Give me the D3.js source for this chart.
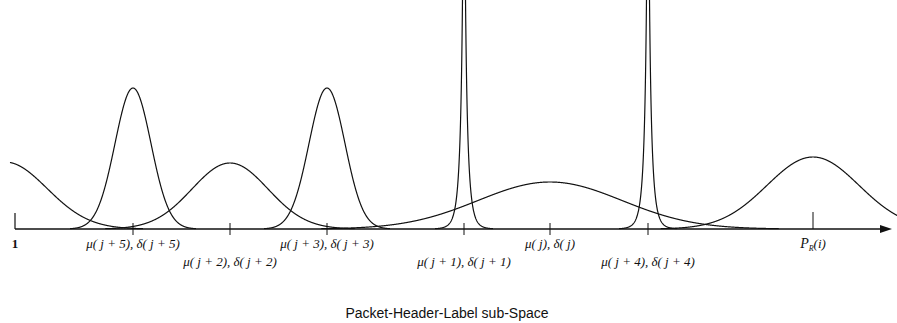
<!DOCTYPE html>
<html>
<head>
<meta charset="utf-8">
<script src="https://cdn.jsdelivr.net/npm/d3@7"></script>
<style>
  html, body { margin: 0; padding: 0; background: #fff; }
  svg { display: block; }
  .lbl { font-family: "Liberation Serif", "DejaVu Serif", serif; font-style: italic; font-size: 13px; fill: #111; }
  .title { font-family: "Liberation Sans", Arial, sans-serif; font-size: 14px; fill: #111; }
</style>
</head>
<body>
<svg id="chart" width="897" height="323"></svg>
<script>
// distributions along the sub-space axis (axis units = pixels from left edge)
const names   = ["left", "j+5", "j+2", "j+3", "j+1", "j", "j+4", "PR"];
const centers = [5, 133, 230, 327, 464, 550, 648, 813];
const spreads = [42, 18, 38, 18, 1.6, 72, 1.6, 46];
const peaks   = [67, 141, 66, 141, 600, 47, 600, 72];
const shapes  = ["gauss", "gauss", "gauss", "gauss", "spike", "gauss", "spike", "gauss"];
const curveStart = [10, 0, 0, 0, 0, 0, 0, 0];

// tick marks and their labels
const tickPos   = [133, 230, 327, 464, 550, 648];
const tickLabels = ["μ( j + 5), δ( j + 5)", "μ( j + 2), δ( j + 2)", "μ( j + 3), δ( j + 3)",
                    "μ( j + 1), δ( j + 1)", "μ( j), δ( j)", "μ( j + 4), δ( j + 4)"];
const tickRow   = [0, 1, 0, 1, 0, 1];
const prPos = 813;
const originLabel = "1";
const title = "Packet-Header-Label sub-Space";

const W = 897, H = 323;
const svg = d3.select("#chart");

const x = d3.scaleLinear().domain([0, 897]).range([0, 897]);
const y = d3.scaleLinear().domain([0, 229]).range([229, 0]);

function density(i, v) {
  const d = Math.abs(v - centers[i]);
  if (shapes[i] === "spike") return peaks[i] * Math.exp(-Math.pow(d / spreads[i], 0.7));
  return peaks[i] * Math.exp(-(d * d) / (2 * spreads[i] * spreads[i]));
}

const line = d3.line()
  .x(d => x(d[0]))
  .y(d => y(d[1]));

svg.append("clipPath").attr("id", "clip")
  .append("rect").attr("x", 0).attr("y", 0).attr("width", W).attr("height", 229.5);

const curves = svg.append("g").attr("clip-path", "url(#clip)");

names.forEach((n, i) => {
  const pts = d3.range(curveStart[i], W + 1, 0.25)
    .map(v => [v, density(i, v)])
    .filter(p => p[1] > 0.3);
  curves.append("path")
    .attr("d", line(pts))
    .attr("fill", "none")
    .attr("stroke", "#111")
    .attr("stroke-width", 1.2);
});

// axis
const axisY = y(0);
svg.append("line")
  .attr("x1", x(15)).attr("x2", x(884))
  .attr("y1", axisY).attr("y2", axisY)
  .attr("stroke", "#111").attr("stroke-width", 1.4);
svg.append("path")
  .attr("d", `M${x(892)},${axisY} L${x(880)},${axisY - 4} L${x(880)},${axisY + 4} Z`)
  .attr("fill", "#111");
svg.append("line")
  .attr("x1", x(15)).attr("x2", x(15))
  .attr("y1", axisY - 16).attr("y2", axisY)
  .attr("stroke", "#111").attr("stroke-width", 1.2);

svg.selectAll(".tick").data(tickPos).join("line")
  .attr("class", "tick")
  .attr("x1", d => x(d)).attr("x2", d => x(d))
  .attr("y1", axisY - 6).attr("y2", axisY + 6)
  .attr("stroke", "#111").attr("stroke-width", 1);
svg.append("line")
  .attr("x1", x(prPos)).attr("x2", x(prPos))
  .attr("y1", axisY - 17).attr("y2", axisY)
  .attr("stroke", "#111").attr("stroke-width", 1);

svg.selectAll(".tl").data(tickLabels).join("text")
  .attr("class", "lbl")
  .attr("x", (d, i) => x(tickPos[i]))
  .attr("y", (d, i) => axisY + 19 + tickRow[i] * 18)
  .attr("text-anchor", "middle")
  .text(d => d);

svg.append("text").attr("class", "lbl")
  .attr("x", x(15)).attr("y", axisY + 19)
  .attr("text-anchor", "middle")
  .style("font-style", "normal")
  .style("font-weight", "bold")
  .text(originLabel);

const pr = svg.append("text").attr("class", "lbl")
  .attr("x", x(prPos)).attr("y", axisY + 19)
  .attr("text-anchor", "middle");
pr.append("tspan").style("font-size", "14px").text("P");
pr.append("tspan").attr("dy", 3).style("font-size", "8px").text("R");
pr.append("tspan").attr("dy", -3).text("(i)");

svg.append("text").attr("class", "title")
  .attr("x", 447).attr("y", 318)
  .attr("text-anchor", "middle")
  .text(title);
</script>
</body>
</html>
